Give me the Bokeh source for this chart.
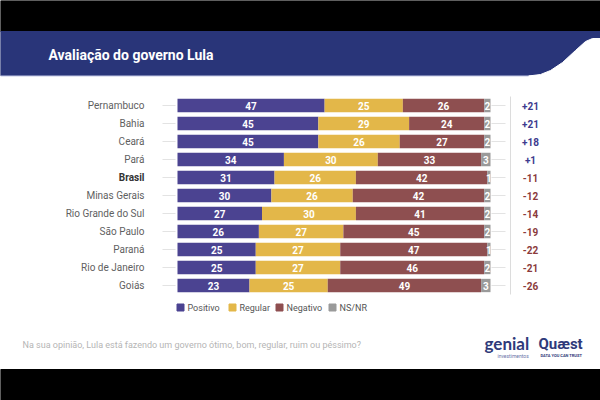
from bokeh.plotting import figure
from bokeh.models import Range1d
from bokeh.core.properties import value
from bokeh.embed import file_html
from bokeh.resources import INLINE

# ---- data ----
states = ["Pernambuco", "Bahia", "Ceará", "Pará", "Brasil", "Minas Gerais",
          "Rio Grande do Sul", "São Paulo", "Paraná", "Rio de Janeiro", "Goiás"]
positivo = [47, 45, 45, 34, 31, 30, 27, 26, 25, 25, 23]
regular = [25, 29, 26, 30, 26, 26, 30, 27, 27, 27, 25]
negativo = [26, 24, 27, 33, 42, 42, 41, 45, 47, 46, 49]
nsnr = [2, 2, 2, 3, 1, 2, 2, 2, 1, 2, 3]
saldo = ["+21", "+21", "+18", "+1", "-11", "-12", "-14", "-19", "-22", "-21", "-26"]
series_names = ["Positivo", "Regular", "Negativo", "NS/NR"]
title = "Avaliação do governo Lula"
footer = "Na sua opinião, Lula está fazendo um governo ótimo, bom, regular, ruim ou péssimo?"

colors = ["#4b4391", "#e3b749", "#8e4f50", "#9a9a9a"]
FONT = "Roboto"

W, H = 600, 400
x0_px, x100_px = 177, 490
sc = (x100_px - x0_px) / 100.0
row0_px, step_px = 105, 18

p = figure(width=W, height=H, output_backend="svg", toolbar_location=None,
           x_range=Range1d(-x0_px / sc, (W - x0_px) / sc),
           y_range=Range1d((H - row0_px) / step_px, -row0_px / step_px),
           min_border=0, background_fill_color="white", border_fill_color="white")
p.axis.visible = False
p.grid.visible = False
p.outline_line_color = None
p.extra_x_ranges = {"px": Range1d(0, W)}
p.extra_y_ranges = {"px": Range1d(H, 0)}
PX = dict(x_range_name="px", y_range_name="px")

# ---- frame decorations ----
p.quad(left=0, right=600, top=0, bottom=31, color="black", **PX)
p.quad(left=0, right=600, top=369, bottom=400, color="black", **PX)
p.quad(left=0, right=600, top=31, bottom=75, color="#293579", **PX)
p.patch([600, 592, 585, 575, 562, 550, 540, 528, 600],
        [38, 38, 41, 50, 62, 70, 74, 75.5, 75.5], color="white", **PX)
p.line([0, 528], [75.5, 75.5], line_color="#c3c8e6", line_width=1, **PX)
p.text(x=[48], y=[54], text=[title], text_color="white", text_font=value(FONT),
       text_font_size="14px", text_font_style="bold", text_baseline="middle", **PX)

# ---- bars ----
ys = list(range(len(states)))
lefts = [0] * len(states)
for vals, col in zip([positivo, regular, negativo, nsnr], colors):
    rights = [l + v for l, v in zip(lefts, vals)]
    p.hbar(y=ys, left=lefts, right=rights, height=0.74, color=col, line_color=None)
    mids = [(l + r) / 2 for l, r in zip(lefts, rights)]
    p.text(x=mids, y=ys, text=[str(v) for v in vals], text_color="white",
           text_font=value(FONT), text_font_size="10px", text_font_style="bold",
           text_align="center", text_baseline="middle")
    lefts = rights

# connectors
p.segment(x0=[(162 - x0_px) / sc] * len(ys), x1=[(175 - x0_px) / sc] * len(ys),
          y0=ys, y1=ys, line_color="#e3e3e3", line_width=1)
p.segment(x0=[(491 - x0_px) / sc] * len(ys), x1=[(505 - x0_px) / sc] * len(ys),
          y0=ys, y1=ys, line_color="#e3e3e3", line_width=1)
p.segment(x0=[(510 - x0_px) / sc], x1=[(510 - x0_px) / sc], y0=[-0.5], y1=[len(ys) - 0.5],
          line_color="#dcdcdc", line_width=1)

# labels
lab_x = [(144 - x0_px) / sc] * len(ys)
normal = [i for i, s in enumerate(states) if s != "Brasil"]
bold = [i for i, s in enumerate(states) if s == "Brasil"]
p.text(x=[lab_x[i] for i in normal], y=normal, text=[states[i] for i in normal],
       text_color="#5f5f5f", text_font=value(FONT), text_font_size="10px",
       text_align="right", text_baseline="middle")
p.text(x=[lab_x[i] for i in bold], y=bold, text=[states[i] for i in bold],
       text_color="#333333", text_font=value(FONT), text_font_size="10px",
       text_font_style="bold", text_align="right", text_baseline="middle")

# saldo
sal_col = ["#3d3b8e" if s.startswith("+") else "#8b3b3c" for s in saldo]
p.text(x=[(530 - x0_px) / sc] * len(ys), y=ys, text=saldo, text_color=sal_col,
       text_font=value(FONT), text_font_size="10px", text_font_style="bold",
       text_align="center", text_baseline="middle")

# legend
leg_x = [180, 232, 279, 332]
for lx, name, col in zip(leg_x, series_names, colors):
    p.quad(left=lx - 3.5, right=lx + 3.5, top=303.5, bottom=310.5, color=col, **PX)
    p.text(x=[lx + 7], y=[307], text=[name], text_color="#555555", text_font=value(FONT),
           text_font_size="9px", text_baseline="middle", **PX)

# footer
p.text(x=[22], y=[344], text=[footer], text_color="#b5b5b5", text_font=value(FONT),
       text_font_size="9px", text_baseline="middle", **PX)

# logos (as text)
p.text(x=[484], y=[343], text=["genial"], text_color="#2f3a7a", text_font=value("Lato"),
       text_font_size="17px", text_font_style="bold", text_baseline="middle", **PX)
p.text(x=[497], y=[355], text=["investimentos"], text_color="#6a74a8", text_font=value(FONT),
       text_font_size="5px", text_baseline="middle", **PX)
p.text(x=[538], y=[343], text=["Quæst"], text_color="#2f3a7a", text_font=value(FONT),
       text_font_size="15px", text_font_style="bold", text_baseline="middle", **PX)
p.text(x=[540], y=[355], text=["DATA YOU CAN TRUST"], text_color="#2f3a7a", text_font=value(FONT),
       text_font_size="4px", text_font_style="bold", text_baseline="middle", **PX)

open("out.html", "w").write(file_html(p, INLINE))
